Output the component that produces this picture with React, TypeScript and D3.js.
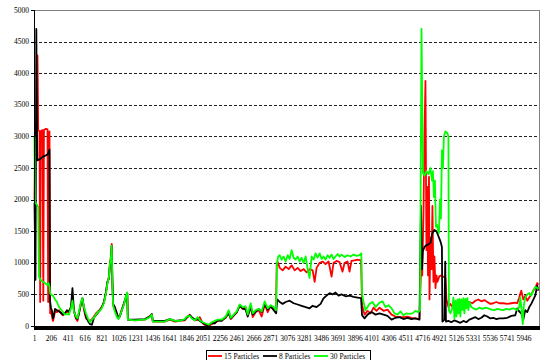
import React from "react";
import * as d3 from "d3";

// Run index (category) and measured value for each swarm size.
const particles15: [number, number][] = [
  [1, 2000], [13, 3200], [25, 3050], [37, 4280], [46, 3100], [62, 3080], [70, 380], [77, 3080],
  [98, 3100], [108, 400], [116, 3100], [140, 3120], [159, 3110], [167, 380], [174, 3050], [183, 3080],
  [191, 200], [201, 260], [213, 150], [226, 80], [238, 150], [250, 230], [274, 220], [298, 250],
  [322, 200], [347, 170], [371, 210], [395, 230], [419, 210], [444, 300], [462, 450], [480, 240],
  [504, 120], [523, 80], [541, 200], [565, 350], [583, 430], [601, 260], [626, 120], [650, 100],
  [674, 80], [698, 110], [723, 150], [747, 200], [771, 230], [796, 260], [820, 310], [844, 370],
  [868, 520], [887, 700], [905, 780], [917, 1000], [929, 1100], [939, 1300], [947, 680], [956, 330],
  [977, 260], [1002, 180], [1020, 140], [1038, 170], [1062, 270], [1087, 360], [1111, 460], [1127, 520],
  [1135, 100], [1220, 90], [1341, 100], [1402, 160], [1426, 180], [1438, 70], [1523, 70], [1584, 70],
  [1645, 100], [1705, 70], [1766, 80], [1827, 90], [1851, 130], [1887, 180], [1911, 130], [1948, 90],
  [1984, 100], [2008, 140], [2044, 40], [2081, 10], [2117, 0], [2154, 30], [2190, 50], [2226, 80],
  [2275, 90], [2323, 130], [2360, 230], [2384, 110], [2420, 160], [2457, 210], [2493, 330], [2529, 270],
  [2566, 290], [2590, 160], [2627, 320], [2651, 140], [2688, 220], [2724, 250], [2760, 150], [2797, 340],
  [2833, 220], [2869, 320], [2906, 270], [2934, 260], [2943, 1000], [2955, 1010], [2979, 920], [3015, 880],
  [3051, 940], [3088, 900], [3124, 960], [3161, 880], [3197, 920], [3233, 870], [3270, 900], [3306, 850],
  [3342, 900], [3379, 880], [3403, 700], [3427, 920], [3464, 1000], [3500, 1020], [3536, 980], [3573, 1020],
  [3609, 780], [3633, 1000], [3670, 1030], [3706, 1010], [3742, 860], [3767, 1000], [3803, 1020], [3827, 860],
  [3851, 1030], [3888, 1040], [3924, 1050], [3967, 1040], [3979, 330], [4009, 180], [4046, 240], [4082, 200],
  [4118, 290], [4155, 240], [4191, 290], [4240, 240], [4288, 260], [4337, 180], [4385, 150], [4434, 140],
  [4482, 140], [4531, 150], [4579, 130], [4628, 120], [4676, 110], [4698, 1000], [4710, 800], [4725, 1800],
  [4737, 3000], [4749, 3880], [4761, 1200], [4774, 2200], [4780, 800], [4792, 2360], [4798, 420], [4810, 1400],
  [4822, 900], [4834, 1900], [4846, 700], [4858, 1100], [4871, 600], [4883, 800], [4895, 700], [4919, 790],
  [4943, 800], [4968, 780], [4992, 760], [5004, 420], [5028, 300], [5052, 350], [5076, 300], [5101, 380],
  [5137, 360], [5173, 350], [5210, 390], [5246, 370], [5282, 380], [5319, 360], [5355, 400], [5391, 420],
  [5428, 390], [5464, 410], [5500, 380], [5537, 350], [5573, 360], [5610, 380], [5646, 360], [5695, 360],
  [5743, 350], [5792, 360], [5840, 370], [5864, 360], [5888, 450], [5913, 560], [5937, 420], [5961, 480],
  [5985, 400], [6010, 450], [6034, 500], [6058, 560], [6082, 600], [6107, 680], [6119, 650],
];

const particles8: [number, number][] = [
  [1, 1950], [13, 730], [23, 4700], [31, 3100], [37, 2620], [68, 2640], [104, 2680], [140, 2700],
  [165, 2720], [183, 2790], [189, 400], [201, 290], [213, 240], [226, 120], [238, 180], [250, 270],
  [274, 250], [298, 230], [322, 210], [347, 180], [371, 200], [395, 250], [419, 230], [444, 300],
  [462, 600], [480, 250], [504, 130], [523, 110], [541, 200], [565, 360], [583, 440], [601, 300],
  [626, 150], [650, 80], [674, 30], [698, 20], [723, 130], [747, 170], [771, 210], [796, 250],
  [820, 300], [844, 380], [868, 530], [887, 700], [905, 750], [917, 960], [929, 1050], [939, 1270],
  [947, 700], [956, 350], [977, 300], [1002, 200], [1020, 120], [1038, 150], [1062, 250], [1087, 350],
  [1111, 450], [1127, 520], [1135, 100], [1220, 100], [1341, 110], [1402, 150], [1426, 190], [1438, 80],
  [1523, 80], [1584, 80], [1645, 110], [1705, 80], [1766, 90], [1827, 100], [1851, 140], [1887, 170],
  [1911, 140], [1948, 100], [1984, 110], [2008, 80], [2044, 50], [2081, 20], [2117, 10], [2154, 50],
  [2190, 40], [2226, 90], [2275, 80], [2323, 140], [2360, 200], [2384, 120], [2420, 170], [2457, 220],
  [2493, 320], [2529, 280], [2566, 260], [2590, 150], [2627, 300], [2651, 180], [2688, 230], [2724, 270],
  [2760, 220], [2797, 350], [2833, 260], [2869, 310], [2906, 250], [2936, 200], [2948, 420], [2979, 380],
  [3015, 350], [3051, 380], [3100, 400], [3148, 360], [3197, 340], [3245, 320], [3294, 300], [3342, 280],
  [3379, 320], [3427, 300], [3476, 350], [3512, 440], [3548, 480], [3585, 520], [3621, 500], [3657, 530],
  [3694, 480], [3730, 500], [3779, 470], [3827, 480], [3876, 460], [3924, 450], [3967, 440], [3979, 170],
  [4009, 120], [4046, 180], [4094, 220], [4143, 180], [4191, 200], [4240, 180], [4288, 160], [4337, 100],
  [4385, 130], [4434, 140], [4482, 110], [4531, 130], [4579, 110], [4628, 120], [4676, 100], [4695, 1900],
  [4707, 900], [4716, 1180], [4737, 1250], [4761, 1280], [4786, 1290], [4810, 1320], [4834, 1470], [4858, 1520],
  [4883, 1500], [4907, 1420], [4931, 1340], [4949, 1250], [4955, 70], [4980, 100], [4989, 1020], [4998, 70],
  [5028, 80], [5064, 60], [5101, 90], [5137, 70], [5173, 50], [5210, 80], [5246, 60], [5282, 100],
  [5319, 120], [5355, 140], [5391, 110], [5428, 130], [5464, 170], [5500, 150], [5537, 120], [5573, 130],
  [5610, 110], [5646, 120], [5695, 120], [5743, 130], [5792, 160], [5840, 170], [5864, 280], [5888, 230],
  [5913, 200], [5937, 100], [5961, 250], [5985, 220], [6010, 300], [6034, 350], [6082, 480], [6107, 640],
  [6119, 560],
];

const particles30: [number, number][] = [
  [1, 3000], [7, 1950], [31, 1920], [46, 1880], [56, 770], [80, 720], [104, 700], [129, 680],
  [153, 650], [171, 680], [183, 620], [191, 520], [201, 500], [226, 480], [250, 420], [274, 380],
  [298, 300], [322, 260], [347, 220], [371, 180], [395, 190], [419, 180], [444, 280], [462, 400],
  [480, 230], [504, 150], [523, 120], [541, 230], [565, 380], [583, 440], [601, 300], [626, 200],
  [650, 120], [674, 60], [698, 100], [723, 130], [747, 180], [771, 220], [796, 240], [820, 290],
  [844, 360], [868, 510], [887, 680], [905, 770], [917, 980], [929, 1080], [939, 1270], [947, 650],
  [956, 320], [977, 230], [1002, 140], [1020, 110], [1038, 160], [1062, 250], [1087, 340], [1111, 470],
  [1127, 530], [1135, 100], [1220, 90], [1341, 100], [1402, 140], [1426, 180], [1438, 70], [1523, 70],
  [1584, 70], [1645, 110], [1705, 80], [1766, 80], [1827, 110], [1851, 150], [1887, 160], [1911, 120],
  [1948, 90], [1984, 140], [2008, 90], [2044, 60], [2081, 40], [2117, 20], [2154, 60], [2190, 80],
  [2226, 100], [2275, 100], [2323, 150], [2360, 250], [2384, 130], [2420, 180], [2457, 230], [2493, 340],
  [2529, 300], [2566, 310], [2590, 180], [2627, 360], [2651, 200], [2688, 250], [2724, 270], [2760, 230],
  [2797, 390], [2833, 280], [2869, 330], [2906, 300], [2934, 250], [2946, 1000], [2961, 1100], [2979, 1120],
  [3003, 1050], [3027, 1100], [3051, 1020], [3076, 1120], [3100, 1060], [3124, 1200], [3148, 1080], [3173, 1050],
  [3197, 1100], [3221, 1020], [3245, 1080], [3270, 1000], [3294, 1100], [3318, 900], [3342, 760], [3367, 1100],
  [3391, 1050], [3415, 1150], [3439, 1080], [3464, 1150], [3488, 1060], [3512, 1100], [3536, 1050], [3561, 1120],
  [3585, 1080], [3609, 1130], [3633, 1060], [3657, 1100], [3682, 1140], [3706, 1100], [3730, 1130], [3767, 1090],
  [3803, 1120], [3839, 1100], [3876, 1130], [3912, 1110], [3948, 1120], [3970, 1150], [3980, 500], [3997, 380],
  [4021, 250], [4046, 300], [4070, 350], [4106, 380], [4143, 300], [4191, 370], [4228, 390], [4264, 300],
  [4300, 330], [4337, 280], [4373, 200], [4409, 180], [4446, 230], [4482, 170], [4519, 200], [4555, 190],
  [4591, 200], [4628, 240], [4664, 220], [4683, 250], [4701, 4700], [4719, 2420], [4737, 2380], [4761, 2450],
  [4786, 2400], [4810, 2500], [4828, 2300], [4840, 2450], [4852, 2040], [4864, 2300], [4876, 1570], [4889, 1600],
  [4901, 1520], [4913, 1470], [4925, 2000], [4937, 1700], [4949, 2780], [4961, 2500], [4973, 3000], [4992, 3080],
  [5016, 3050], [5028, 3000], [5034, 250], [5052, 200], [5076, 280], [5088, 450], [5101, 120], [5113, 400],
  [5125, 150], [5137, 420], [5149, 200], [5161, 430], [5173, 150], [5185, 420], [5197, 250], [5210, 440],
  [5222, 200], [5234, 430], [5246, 280], [5258, 440], [5270, 250], [5282, 380], [5307, 300], [5331, 280],
  [5367, 260], [5403, 290], [5440, 270], [5476, 290], [5512, 280], [5549, 260], [5585, 250], [5622, 270],
  [5658, 260], [5695, 250], [5731, 270], [5767, 260], [5804, 280], [5840, 270], [5864, 250], [5888, 300],
  [5901, 450], [5913, 300], [5931, 30], [5943, 320], [5961, 450], [5985, 500], [6010, 520], [6034, 480],
  [6058, 560], [6082, 620], [6107, 600], [6119, 580],
];

const seriesNames = ["15 Particles", "8 Particles", "30 Particles"];
const seriesColors = ["#ff0000", "#000000", "#00ff00"];
const seriesData = [particles15, particles8, particles30];

const categoryCount = 6128;
const categoryLabelStep = 205;
const yTicks = [0, 500, 1000, 1500, 2000, 2500, 3000, 3500, 4000, 4500, 5000];

const W = 540;
const H = 360;
const plot = { left: 34, right: 539, top: 10, bottom: 326 };
const font = "'Liberation Serif', 'Times New Roman', serif";

export default function App() {
  const x = d3.scaleLinear().domain([1, categoryCount]).range([plot.left + 0.5, plot.right]);
  const y = d3.scaleLinear().domain([0, 5000]).range([plot.bottom, plot.top]);

  const line = d3
    .line<[number, number]>()
    .x((d) => x(d[0]))
    .y((d) => y(d[1]));

  const categoryLabels = d3.range(1, categoryCount, categoryLabelStep);

  const legendItems = [
    { x: 208, textX: 224 },
    { x: 263, textX: 279 },
    { x: 314, textX: 330 },
  ];

  return (
    <svg
      width={W}
      height={H}
      style={{ position: "absolute", left: 0, top: 0, background: "#fff" }}
      fontFamily={font}
    >
      <rect x={0} y={0} width={W} height={H} fill="#fff" />

      {/* horizontal dashed gridlines */}
      {yTicks
        .filter((t) => t > 0 && t < 5000)
        .map((t) => (
          <line
            key={`g${t}`}
            x1={plot.left}
            x2={plot.right}
            y1={Math.round(y(t)) + 0.5}
            y2={Math.round(y(t)) + 0.5}
            stroke="#222"
            strokeWidth={1}
            strokeDasharray="3,2"
          />
        ))}

      {/* plot area border */}
      <line x1={plot.left} x2={plot.right} y1={plot.top + 0.5} y2={plot.top + 0.5} stroke="#808080" />
      <line x1={plot.right + 0.5} x2={plot.right + 0.5} y1={plot.top} y2={plot.bottom} stroke="#808080" />

      {/* series */}
      {seriesData.map((data, i) => (
        <path
          key={seriesNames[i]}
          d={line(data) ?? ""}
          fill="none"
          stroke={seriesColors[i]}
          strokeWidth={1.8}
          strokeLinejoin="round"
        />
      ))}

      {/* value axis */}
      <line x1={plot.left + 0.5} x2={plot.left + 0.5} y1={plot.top} y2={plot.bottom} stroke="#000" />
      {yTicks.map((t) => (
        <g key={`y${t}`}>
          <line
            x1={plot.left - 3}
            x2={plot.left}
            y1={Math.round(y(t)) + 0.5}
            y2={Math.round(y(t)) + 0.5}
            stroke="#000"
          />
          <text x={plot.left - 5} y={y(t) + 2.5} fontSize={7.5} textAnchor="end" fill="#000">
            {t}
          </text>
        </g>
      ))}

      {/* category axis: a tick per category reads as a solid band */}
      <rect x={plot.left} y={plot.bottom} width={plot.right - plot.left + 1} height={4} fill="#000" />
      {categoryLabels.map((c) => (
        <text key={`x${c}`} x={x(c)} y={341} fontSize={7.5} textAnchor="middle" fill="#000">
          {c}
        </text>
      ))}

      {/* legend */}
      <rect x={206.5} y={350.5} width={164} height={14} fill="#fff" stroke="#000" />
      {legendItems.map((it, i) => (
        <g key={`l${i}`}>
          <line x1={it.x} x2={it.x + 14} y1={356} y2={356} stroke={seriesColors[i]} strokeWidth={1.8} />
          <text x={it.textX} y={358.5} fontSize={7.5} fill="#000">
            {seriesNames[i]}
          </text>
        </g>
      ))}
    </svg>
  );
}
